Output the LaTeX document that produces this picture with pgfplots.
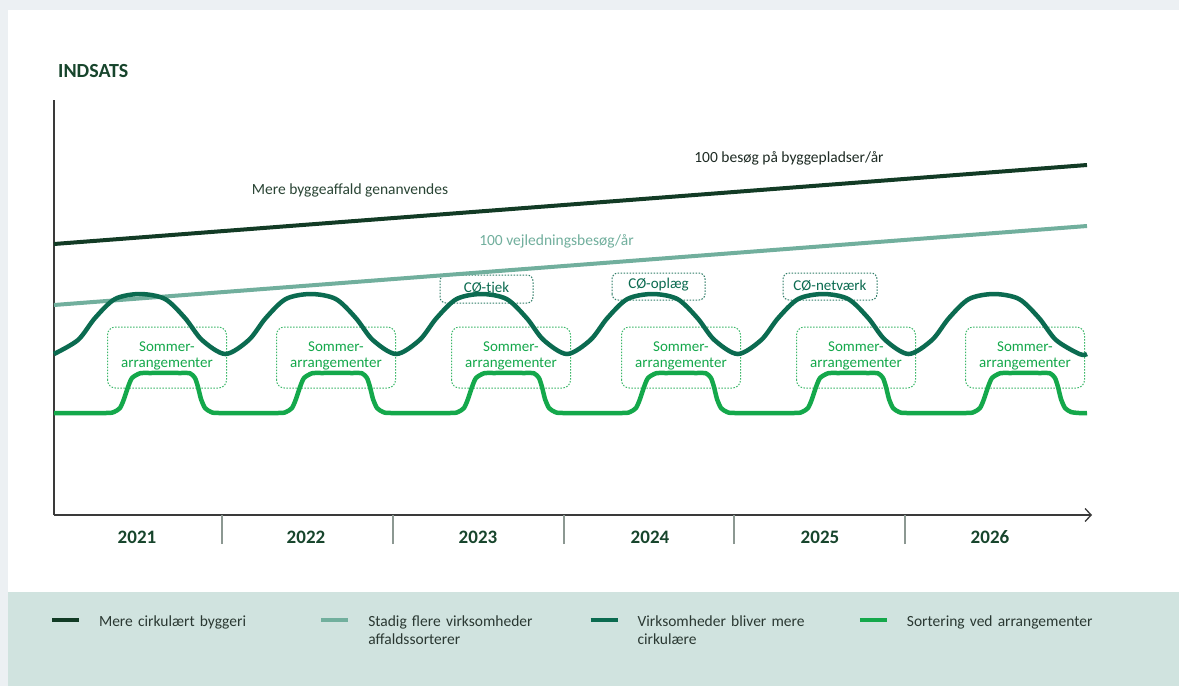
\documentclass[border=0pt]{standalone}
\usepackage{pgfplots}
\pgfplotsset{compat=1.18}
\usetikzlibrary{arrows.meta}
\usepackage{fontspec}
\setmainfont{Carlito}
\definecolor{bggray}{HTML}{ECF0F3}
\definecolor{band}{HTML}{D0E3DF}
\definecolor{cdark}{HTML}{123B25}
\definecolor{clight}{HTML}{71AF9D}
\definecolor{cteal}{HTML}{0B6B50}
\definecolor{cgreen}{HTML}{14A84B}
\definecolor{boxgreen}{HTML}{3DB86A}
\definecolor{boxteal}{HTML}{2E7C66}
\definecolor{titlegreen}{HTML}{17452C}
\definecolor{axisgray}{HTML}{3A3A3A}
\definecolor{divgray}{HTML}{8C9892}
\definecolor{legendtext}{HTML}{2A3832}
\definecolor{labeldark}{HTML}{1E2B24}
\definecolor{labelmid}{HTML}{2A4535}
\begin{document}
\begin{tikzpicture}
\useasboundingbox (0,0) rectangle (1179pt,-686pt);
\fill[bggray] (0,0) rectangle (1179pt,-686pt);
\fill[white] (8pt,-10pt) rectangle (1179pt,-592pt);
\fill[band] (8pt,-592pt) rectangle (1179pt,-686pt);
\node[anchor=base west, font=\fontsize{20}{24}\selectfont\bfseries, text=titlegreen, inner sep=0pt] at (58pt,-77pt) {INDSATS};
\begin{axis}[
  at={(54pt,-515pt)}, anchor=south west,
  x=1pt, y=1pt, xmin=0, xmax=1038, ymin=0, ymax=415,
  axis x line=bottom, axis y line=left,
  x axis line style={draw=axisgray, line width=1.3pt, -{Straight Barb[length=6pt,width=13pt]}},
  y axis line style={draw=axisgray, line width=1.3pt, -},
  ytick=\empty,
  xtick={83,252,424,596,766,936},
  xticklabels={\textbf{2021},\textbf{2022},\textbf{2023},\textbf{2024},\textbf{2025},\textbf{2026}},
  tick align=outside,
  major tick length=0pt,
  tick style={draw=divgray, line width=1.3pt},
  xticklabel style={anchor=base, yshift=-28pt, font=\fontsize{19}{22}\selectfont, text=titlegreen},
  extra x ticks={168,339,510,680,851},
  extra x tick labels={},
  extra x tick style={major tick length=29pt},
  /pgf/number format/assume math mode=true,
  clip=false,
  legend columns=4,
  legend cell align=left,
  legend image code/.code={\draw[#1, line width=4pt] (0pt,7pt) -- (27pt,7pt);},
  legend style={at={(axis cs:-4,-101)}, anchor=north west, draw=none, fill=none,
    inner sep=0pt, outer sep=0pt,
    font=\fontsize{15.5}{18}\selectfont, text=legendtext,
    cells={anchor=base west},
    nodes={text width=200pt, align=left, inner sep=0pt},
    /tikz/every odd column/.append style={column sep=18pt},
    /tikz/every even column/.append style={column sep=20.3pt}},
]
% Sommer boxes
\foreach \cx in {113,282,457,627,802,971}{
  \edef\temp{\noexpand\draw[boxgreen, line width=1pt, dash pattern=on 1.5pt off 1.5pt, rounded corners=8pt]
    (axis cs:\cx-59.5,127) rectangle (axis cs:\cx+59.5,188);
    \noexpand\node[align=center, text=cgreen, font=\noexpand\fontsize{15}{16}\noexpand\selectfont, inner sep=0pt] at (axis cs:\cx,159) {Sommer-\noexpand\\arrangementer};}
  \temp
}
% CO boxes
\draw[boxteal, line width=1pt, dash pattern=on 1.5pt off 1.5pt, rounded corners=6pt] (axis cs:386,212) rectangle (axis cs:479,240);
\draw[boxteal, line width=1pt, dash pattern=on 1.5pt off 1.5pt, rounded corners=6pt] (axis cs:558,215) rectangle (axis cs:651,242);
\draw[boxteal, line width=1pt, dash pattern=on 1.5pt off 1.5pt, rounded corners=6pt] (axis cs:729,215) rectangle (axis cs:823,242);
\node[anchor=base, text=cteal, font=\fontsize{15}{16}\selectfont, inner sep=0pt] at (axis cs:432.5,223) {CØ-tjek};
\node[anchor=base, text=cteal, font=\fontsize{15}{16}\selectfont, inner sep=0pt] at (axis cs:604.5,227) {CØ-oplæg};
\node[anchor=base, text=cteal, font=\fontsize{15}{16}\selectfont, inner sep=0pt] at (axis cs:776,225) {CØ-netværk};
% line labels
\node[anchor=base, text=labeldark, font=\fontsize{15.5}{16}\selectfont, inner sep=0pt] at (axis cs:735,353) {100 besøg på byggepladser/år};
\node[anchor=base, text=labelmid, font=\fontsize{15.5}{16}\selectfont, inner sep=0pt] at (axis cs:296,321) {Mere byggeaffald genanvendes};
\node[anchor=base, text=clight, font=\fontsize{15.5}{16}\selectfont, inner sep=0pt] at (axis cs:502.5,270) {100 vejledningsbesøg/år};

\addplot[cdark, line width=4pt] coordinates {(0,271) (1033,350)};
\addlegendentry{Mere cirkulært byggeri}
\addplot[clight, line width=4pt] coordinates {(0,210) (1033,289)};
\addlegendentry{Stadig flere virksomheder\\affaldssorterer}
\addplot[cteal, line width=4.5pt, smooth] coordinates {
(0,161) (24,175) (41,197) (61,216) (86,221) (111,216) (131,197) (148,175) (171.4,161)
(194.8,175) (211.8,197) (231.8,216) (256.8,221) (281.8,216) (301.8,197) (318.8,175) (342.2,161)
(365.6,175) (382.6,197) (402.6,216) (427.6,221) (452.6,216) (472.6,197) (489.6,175) (513,161)
(536.4,175) (553.4,197) (573.4,216) (598.4,221) (623.4,216) (643.4,197) (660.4,175) (683.8,161)
(707.2,175) (724.2,197) (744.2,216) (769.2,221) (794.2,216) (814.2,197) (831.2,175) (854.6,161)
(878,175) (895,197) (915,216) (940,221) (965,216) (985,197) (1002,175) (1025.4,161) (1033,161)};
\addlegendentry{Virksomheder bliver mere\\cirkulære}
\addplot[cgreen, line width=4.5pt, smooth, tension=0.4] coordinates {
(0,102) (52,102) (60,103) (66,107) (70,116) (74,128) (78,137) (86,141.7) (96,142) (126,142) (136,141.7) (141,137) (144,128) (147,116) (151,107) (157,103) (165,102)
(224,102) (232,103) (238,107) (242,116) (246,128) (250,137) (258,141.7) (268,142) (298,142) (308,141.7) (313,137) (316,128) (319,116) (323,107) (329,103) (337,102)
(396,102) (404,103) (410,107) (414,116) (418,128) (422,137) (430,141.7) (440,142) (470,142) (480,141.7) (485,137) (488,128) (491,116) (495,107) (501,103) (509,102)
(568,102) (576,103) (582,107) (586,116) (590,128) (594,137) (602,141.7) (612,142) (642,142) (652,141.7) (657,137) (660,128) (663,116) (667,107) (673,103) (681,102)
(740,102) (748,103) (754,107) (758,116) (762,128) (766,137) (774,141.7) (784,142) (814,142) (824,141.7) (829,137) (832,128) (835,116) (839,107) (845,103) (853,102)
(912,102) (920,103) (926,107) (930,116) (934,128) (938,137) (946,141.7) (956,142) (986,142) (996,141.7) (1001,137) (1004,128) (1007,116) (1011,107) (1017,103) (1025,102) (1033,102)};
\addlegendentry{Sortering ved arrangementer}
\end{axis}
\end{tikzpicture}
\end{document}
